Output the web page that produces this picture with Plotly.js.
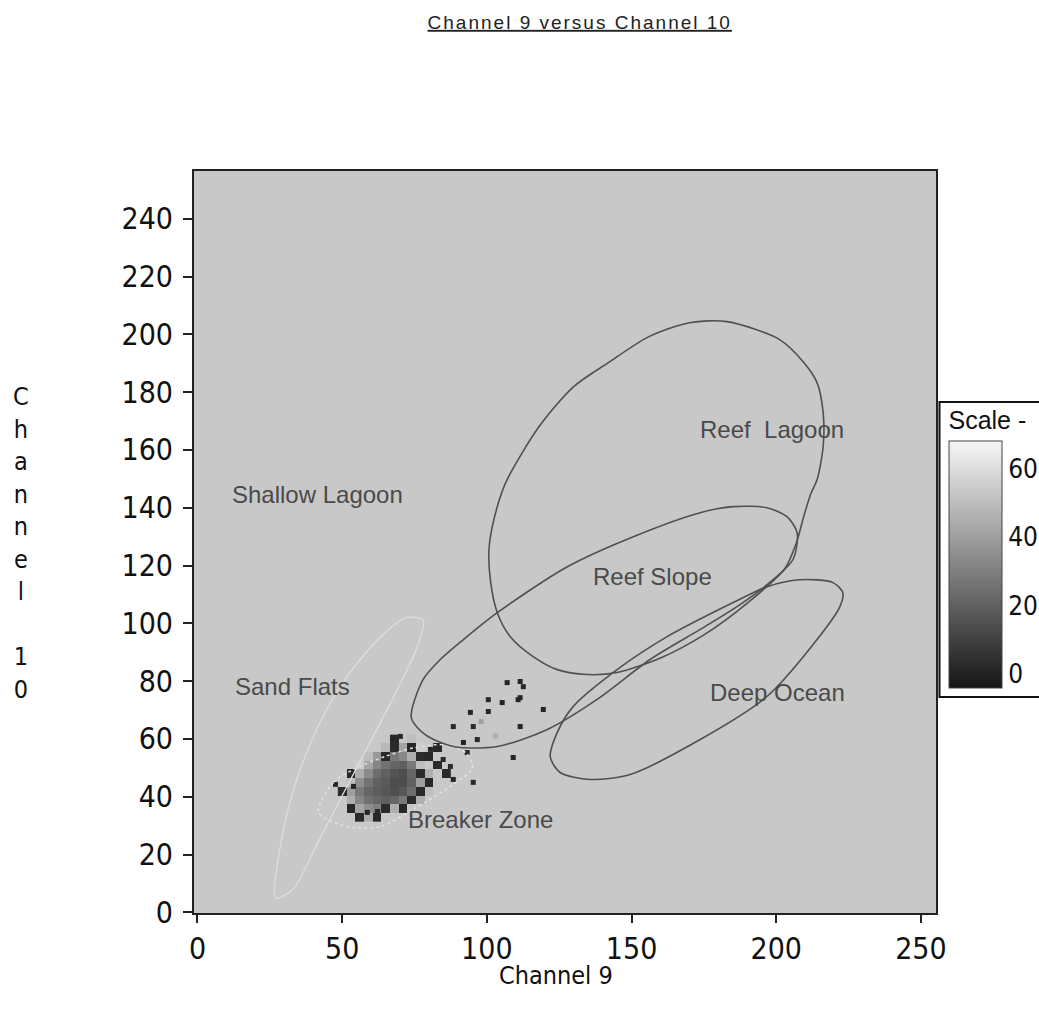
<!DOCTYPE html>
<html>
<head>
<meta charset="utf-8">
<script src="https://cdn.plot.ly/plotly-3.0.1.min.js"></script>
<style>html,body{margin:0;padding:0;background:#fff;}#chart{width:1039px;height:1009px;}</style>
</head>
<body>
<div id="chart"></div>
<script>
// ---- ellipse outlines (Channel 9, Channel 10) ----
var reefLagoonX = [183,170,156,142,130,118,107,103.6,100.8,101.2,103.6,108.1,116,124.3,134.7,145,160,175,190,203,207,209.5,212,214.1,216.2,216.2,214.1,209.3,201.3,183];
var reefLagoonY = [204.4,204,199.2,190.2,181.9,168,149.7,140.4,126.6,115.1,103.7,95.4,88.5,84,82.3,83,88,96,107,119,128,137,145,149.7,161.1,172.9,183.3,190.5,198.1,204.4];

var reefSlopeX = [73.9,78,83.9,91.9,103.6,127.8,150.6,173.7,185.1,196.8,203.7,207.2,205.8,198.9,187.5,173.7,156.4,138.1,120.9,103.6,88.4,78.7,73.9];
var reefSlopeY = [67.4,80.6,87.5,94.4,103.7,119.6,130,138.3,140.4,140,136.9,131.4,122.1,115.1,106.5,97.9,87.5,73.7,63.3,57.4,57.4,61.5,67.4];

var deepOceanX = [223,219.6,208.2,196.8,185.1,162.3,145,129.8,124.3,121.9,125.3,135.7,149.5,173.7,196.8,214.1,222,223];
var deepOceanY = [110.6,114.1,115.1,112.7,107.2,95.4,84,71.2,62.2,53.9,48.4,46,47.7,59.8,74.7,94.4,105.8,110.6];

var breakerX = [41.8,47,55,65,75,85,93,95,88,75,63.2,51.8,41.8];
var breakerY = [34.6,45,50,54,57,58,55,50,44,36,29.7,29.7,34.6];

var sandFlatsX = [27,29,34,42,52,63,72,78,76,68,55,42,33,27];
var sandFlatsY = [5,25,45,65,82,95,102,101,92,75,50,25,8,5];

// ---- dense pixel cluster (counts) ----
var blobX = [50,53,56,59,62,65,68,71,74,77,80,83,86];
var blobY = [33,36,39,42,45,48,51,54,57,60];
var blobZ = [
  [null,null,3,45,2,null,null,null,null,null,null,null,null],
  [null,2,42,35,30,3,45,2,null,null,null,null,null],
  [null,45,32,25,22,20,22,28,3,45,null,null,null],
  [3,40,28,22,19,17,15,17,24,2,50,null,null],
  [null,50,35,26,20,18,14,14,20,40,2,null,null],
  [null,2,45,34,24,20,16,14,22,3,45,null,2],
  [null,null,55,42,32,26,22,20,28,50,null,3,null],
  [null,null,null,50,38,2,28,33,45,3,2,null,null],
  [null,null,null,null,null,48,3,42,2,55,null,2,null],
  [null,null,null,null,null,null,2,null,50,null,null,null,null]
];

// ---- scattered pixels ----
var ptX = [111.5,112.6,107,111.5,100.5,100.5,105.3,95.3,109.1,93.2,95.3,88.4,87.4,84.9,80.5,91.9,96.7,119.5,70.1,58.7,62.2,53.9,47.7,110.8,94.3,88.4,111.5,98,103];
var ptY = [79.9,78.1,79.5,74.3,73.6,69.5,72.6,64.3,53.6,55.3,45,46,50.5,52.9,56.4,58.8,59.8,70.2,60.9,34.6,34.9,43.6,44.3,73.6,69.2,64.3,64.3,66,61];
var ptC = [1,2,1,3,2,1,1,2,1,1,2,1,3,2,1,1,2,1,2,1,2,1,2,1,1,2,1,40,45];

var regionNames = ['Reef  Lagoon','Shallow Lagoon','Reef Slope','Deep Ocean','Sand Flats','Breaker Zone'];
var regionLabelX = [198.6,41.4,157.1,200.6,32.8,97.7];
var regionLabelY = [167,144.5,116.2,76.1,78.1,32.2];

var xTicks = [0,50,100,150,200,250];
var yTicks = [0,20,40,60,80,100,120,140,160,180,200,220,240];
var scaleTicks = [0,20,40,60];

var narrow = 'Liberation Sans Narrow, DejaVu Sans Condensed, Arial Narrow, sans-serif';
var sans = 'Liberation Sans, Arial, sans-serif';

function ell(x, y, color, width, dash) {
  return {type:'scatter', mode:'lines', x:x, y:y, hoverinfo:'skip', showlegend:false,
    line:{color:color, width:width, shape:'spline', smoothing:0.8, dash:dash||'solid'}};
}

var traces = [
  ell(sandFlatsX, sandFlatsY, '#dedede', 1.3),
  {type:'heatmap', x:blobX, y:blobY, z:blobZ, coloraxis:'coloraxis', zsmooth:false, hoverinfo:'skip', xgap:0, ygap:0},
  {type:'scatter', mode:'markers', x:ptX, y:ptY, showlegend:false, hoverinfo:'skip',
    marker:{symbol:'square', size:5, color:ptC, coloraxis:'coloraxis', line:{width:0}}},
  ell(breakerX, breakerY, '#e2e2e2', 1.5, 'dot'),
  ell(reefLagoonX, reefLagoonY, '#505050', 1.6),
  ell(reefSlopeX, reefSlopeY, '#505050', 1.6),
  ell(deepOceanX, deepOceanY, '#505050', 1.6)
];

var annotations = regionNames.map(function(n, i){
  return {x:regionLabelX[i], y:regionLabelY[i], xref:'x', yref:'y', text:n, showarrow:false,
    font:{family:sans, size:24, color:'#4a4a4a'}, xanchor:'center', yanchor:'middle'};
});
annotations.push({xref:'paper', yref:'paper', x:-0.2332, y:0.4987, xanchor:'center', yanchor:'middle',
  text:'C<br>h<br>a<br>n<br>n<br>e<br>l<br>\u00a0<br>1<br>0', showarrow:false, align:'center',
  font:{family:narrow, size:25, color:'#111'}});
annotations.push({xref:'paper', yref:'paper', x:0.488, y:-0.0836, xanchor:'center', yanchor:'middle',
  text:'Channel 9', showarrow:false, font:{family:narrow, size:25, color:'#111'}});

var layout = {
  width:1039, height:1009,
  margin:{l:194, r:103, t:171, b:96, pad:0, autoexpand:false},
  paper_bgcolor:'#ffffff', plot_bgcolor:'#c8c8c8',
  showlegend:false,
  title:{text:'<span style="text-decoration:underline;letter-spacing:2px">Channel 9 versus Channel 10</span>',
    x:0.558, xref:'container', xanchor:'center', y:0.978, yref:'container', yanchor:'middle',
    font:{family:sans, size:19, color:'#222'}},
  xaxis:{range:[-1.2,255.2], tickmode:'array', tickvals:xTicks, ticktext:xTicks.map(String),
    showgrid:false, zeroline:false, showline:true, linecolor:'#222', linewidth:2, mirror:true,
    ticks:'outside', ticklen:8, tickwidth:2, tickcolor:'#222',
    tickfont:{family:narrow, size:30, color:'#111'}},
  yaxis:{range:[-0.2,256.5], tickmode:'array', tickvals:yTicks, ticktext:yTicks.map(String),
    showgrid:false, zeroline:false, showline:true, linecolor:'#222', linewidth:2, mirror:true,
    ticks:'outside', ticklen:9, tickwidth:2, tickcolor:'#222', ticklabelstandoff:4,
    tickfont:{family:narrow, size:30, color:'#111'}},
  coloraxis:{cmin:-4, cmax:68, colorscale:[[0,'#151515'],[1,'#f6f6f6']], showscale:true,
    colorbar:{x:1.0067, xanchor:'left', xref:'paper', y:0.4919, yanchor:'middle',
      thickness:53, thicknessmode:'pixels', len:292, lenmode:'pixels',
      outlinewidth:1, outlinecolor:'#444', bordercolor:'#111', borderwidth:2,
      xpad:8, ypad:6, tickmode:'array', tickvals:scaleTicks, ticks:'', ticklen:2,
      tickfont:{family:narrow, size:26, color:'#111'},
      title:{text:'Scale -', side:'top', font:{family:sans, size:25, color:'#111'}}}},
  annotations:annotations
};

Plotly.newPlot('chart', traces, layout, {staticPlot:true});
</script>
</body>
</html>
